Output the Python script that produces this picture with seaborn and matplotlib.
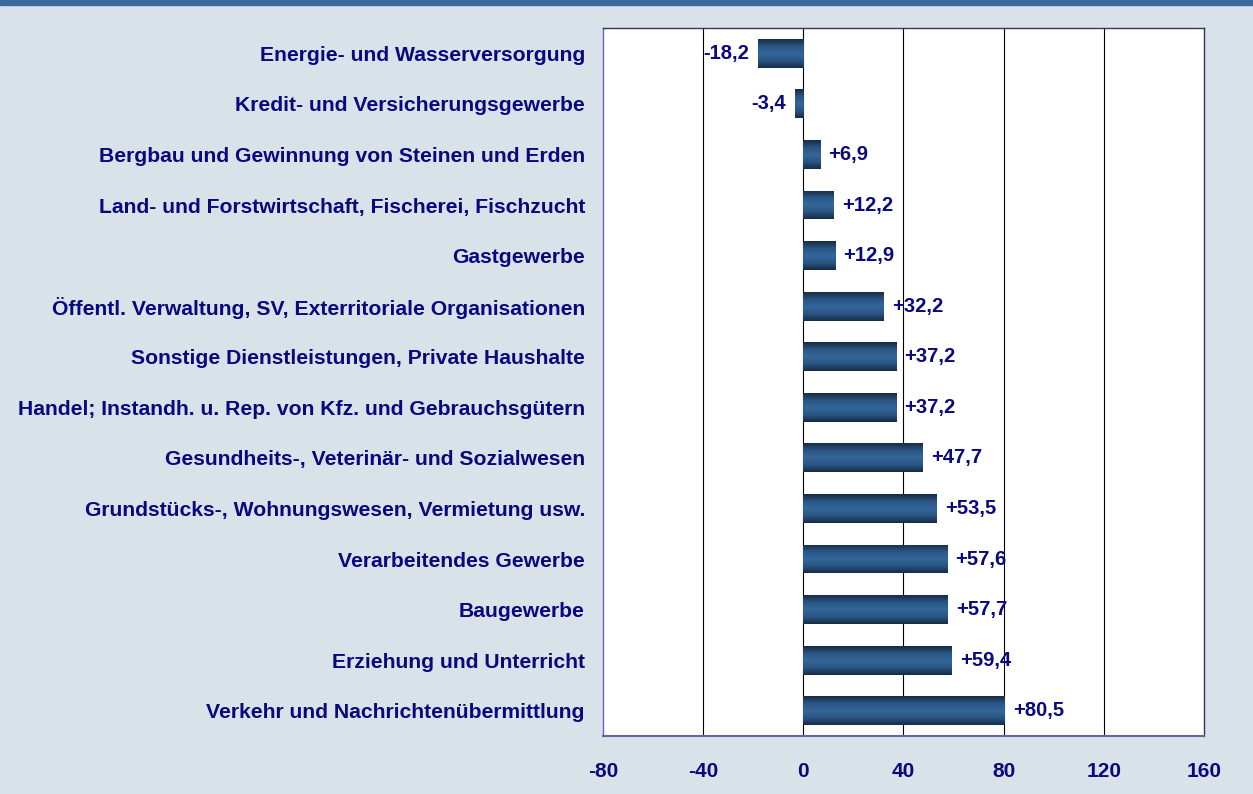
import numpy as np
import pandas as pd
import matplotlib
matplotlib.use("Agg")
import matplotlib.pyplot as plt
from matplotlib.colors import LinearSegmentedColormap
import seaborn as sns

sectors = [
    "Energie- und Wasserversorgung",
    "Kredit- und Versicherungsgewerbe",
    "Bergbau und Gewinnung von Steinen und Erden",
    "Land- und Forstwirtschaft, Fischerei, Fischzucht",
    "Gastgewerbe",
    "Öffentl. Verwaltung, SV, Exterritoriale Organisationen",
    "Sonstige Dienstleistungen, Private Haushalte",
    "Handel; Instandh. u. Rep. von Kfz. und Gebrauchsgütern",
    "Gesundheits-, Veterinär- und Sozialwesen",
    "Grundstücks-, Wohnungswesen, Vermietung usw.",
    "Verarbeitendes Gewerbe",
    "Baugewerbe",
    "Erziehung und Unterricht",
    "Verkehr und Nachrichtenübermittlung",
]
change = [-18.2, -3.4, 6.9, 12.2, 12.9, 32.2, 37.2, 37.2, 47.7, 53.5, 57.6, 57.7, 59.4, 80.5]
x_ticks = [-80, -40, 0, 40, 80, 120, 160]

df = pd.DataFrame({"sector": sectors, "change": change})

NAVY = "#08087f"
BG = "#d9e1e9"

sns.set_theme(style="white")
plt.rcParams["font.family"] = ["Liberation Sans", "DejaVu Sans"]
plt.rcParams["font.weight"] = "bold"

fig = plt.figure(figsize=(12.53, 7.94), dpi=100, facecolor=BG)
ax = fig.add_axes([0.4812, 0.073, 0.4797, 0.8917])
ax.set_facecolor("white")

sns.barplot(data=df, x="change", y="sector", orient="h", color="#336699",
            width=0.57, ax=ax, zorder=3)

# gradient fill clipped to each bar
cmap = LinearSegmentedColormap.from_list(
    "bar", ["#152a44", "#2a5583", "#33669a", "#2a5583", "#152a44"])
grad = np.linspace(0, 1, 256).reshape(-1, 1)
for p in ax.patches:
    x0, y0 = p.get_x(), p.get_y()
    w, h = p.get_width(), p.get_height()
    p.set_facecolor("none")
    p.set_edgecolor("none")
    im = ax.imshow(grad, cmap=cmap, aspect="auto", zorder=3,
                   extent=[x0, x0 + w, y0 + h, y0], interpolation="bicubic")
    im.set_clip_path(p)

ax.set_xlim(-80, 160)
ax.set_ylim(len(sectors) - 0.5, -0.5)
ax.set_xticks(x_ticks)
ax.set_xticklabels([str(t) for t in x_ticks])
ax.grid(False)
for t in x_ticks[1:-1]:
    ax.axvline(t, color="black", lw=0.8, zorder=1)

for name, s in ax.spines.items():
    s.set_visible(True)
    s.set_linewidth(1.0)
    s.set_color("#6666aa" if name in ("left", "bottom") else "#333366")
ax.spines["bottom"].set_linewidth(1.5)

ax.tick_params(axis="y", length=0, pad=13, labelsize=15.2, labelcolor=NAVY)
ax.tick_params(axis="x", length=0, pad=19, labelsize=15, labelcolor=NAVY)
for lab in ax.get_yticklabels() + ax.get_xticklabels():
    lab.set_fontweight("bold")
ax.set_xlabel("")
ax.set_ylabel("")

for i, v in enumerate(change):
    txt = f"{v:+.1f}".replace(".", ",")
    if v < 0:
        ax.text(v - 3.4, i, txt, ha="right", va="center", color=NAVY,
                fontsize=14.5, fontweight="bold", zorder=5)
    else:
        ax.text(v + 3.2, i, txt, ha="left", va="center", color=NAVY,
                fontsize=14.5, fontweight="bold", zorder=5)

# top band
fig.patches.append(plt.Rectangle((0, 1 - 5 / 794), 1, 5 / 794, transform=fig.transFigure,
                                 color="#3a6a9e", zorder=10))

fig.savefig("out.png", dpi=100, facecolor=BG)
